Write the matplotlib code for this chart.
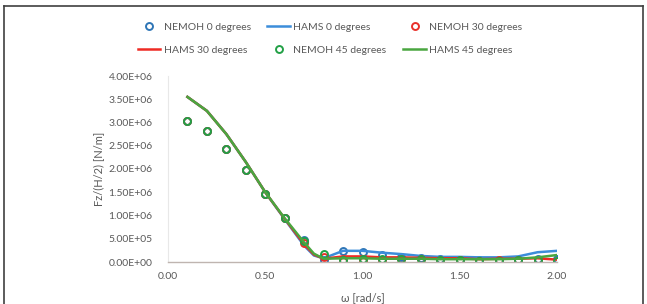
import matplotlib
matplotlib.use("Agg")
import matplotlib.pyplot as plt
from matplotlib.lines import Line2D
from matplotlib.ticker import FuncFormatter

# ---- data (values in N/m) ----
omega_nemoh = [0.1, 0.2, 0.3, 0.4, 0.5, 0.6, 0.7, 0.8, 0.9, 1.0,
               1.1, 1.2, 1.3, 1.4, 1.5, 1.6, 1.7, 1.8, 1.9, 2.0]
nemoh_0 = [3.04, 2.82, 2.44, 1.98, 1.46, 0.94, 0.47, 0.04, 0.24, 0.22,
           0.15, 0.10, 0.08, 0.06, 0.05, 0.04, 0.04, 0.05, 0.06, 0.06]
nemoh_30 = [3.04, 2.82, 2.44, 1.98, 1.46, 0.94, 0.41, 0.10, 0.03, 0.03,
            0.05, 0.06, 0.06, 0.05, 0.04, 0.03, 0.04, 0.04, 0.05, 0.03]
nemoh_45 = [3.04, 2.82, 2.44, 1.98, 1.46, 0.94, 0.45, 0.17, 0.05, 0.06,
            0.07, 0.07, 0.07, 0.05, 0.04, 0.03, 0.03, 0.04, 0.04, 0.03]

omega_hams = [0.1, 0.2, 0.3, 0.4, 0.5, 0.6, 0.7, 0.75, 0.8, 0.9, 1.0,
              1.1, 1.2, 1.3, 1.4, 1.5, 1.6, 1.7, 1.8, 1.9, 2.0]
hams_0 = [3.55, 3.25, 2.75, 2.15, 1.50, 0.92, 0.35, 0.14, 0.08, 0.24, 0.24,
          0.20, 0.17, 0.13, 0.11, 0.11, 0.10, 0.10, 0.12, 0.21, 0.24]
hams_30 = [3.55, 3.25, 2.75, 2.15, 1.50, 0.93, 0.38, 0.16, 0.07, 0.12, 0.12,
           0.10, 0.10, 0.09, 0.08, 0.08, 0.06, 0.07, 0.07, 0.08, 0.05]
hams_45 = [3.55, 3.25, 2.75, 2.15, 1.50, 0.94, 0.42, 0.18, 0.07, 0.08, 0.08,
           0.07, 0.07, 0.07, 0.06, 0.06, 0.06, 0.06, 0.07, 0.10, 0.15]

x_ticks = [0.0, 0.5, 1.0, 1.5, 2.0]
y_ticks = [0, 0.5e6, 1.0e6, 1.5e6, 2.0e6, 2.5e6, 3.0e6, 3.5e6, 4.0e6]

scale = 1e6
text_color = "#595959"
c_blue_m, c_blue_l = "#2E75B6", "#3C8DDA"
c_red_m, c_red_l = "#E8302A", "#EE2B24"
c_green_m, c_green_l = "#22A046", "#4AA640"

plt.rcParams['font.family'] = ['Lato', 'DejaVu Sans']

fig = plt.figure(figsize=(6.47, 3.04), dpi=100)
ax = fig.add_axes([168/647, 1 - 262/304, (557-168)/647, (262-76)/304])

mk = dict(marker='o', linestyle='none', markersize=5.0, markerfacecolor='none',
          markeredgewidth=1.4)
ax.plot(omega_nemoh, [v*scale for v in nemoh_0], markeredgecolor=c_blue_m, **mk)
ax.plot(omega_hams, [v*scale for v in hams_0], color=c_blue_l, lw=1.8)
ax.plot(omega_nemoh, [v*scale for v in nemoh_30], markeredgecolor=c_red_m, **mk)
ax.plot(omega_hams, [v*scale for v in hams_30], color=c_red_l, lw=1.8)
ax.plot(omega_nemoh, [v*scale for v in nemoh_45], markeredgecolor=c_green_m, **mk)
ax.plot(omega_hams, [v*scale for v in hams_45], color=c_green_l, lw=1.8)

ax.set_xlim(0, 2.0)
ax.set_ylim(0, 4.0e6)
ax.set_xticks(x_ticks)
ax.set_yticks(y_ticks)
ax.xaxis.set_major_formatter(FuncFormatter(lambda v, p: f"{v:.2f}"))
ax.yaxis.set_major_formatter(FuncFormatter(lambda v, p: "%.2E" % v))
ax.tick_params(length=0, labelsize=7.5, colors=text_color)
ax.tick_params(axis='y', pad=11)
ax.tick_params(axis='x', pad=7)
for s in ['top', 'right']:
    ax.spines[s].set_visible(False)
ax.spines['bottom'].set_color('#BFB5B0')
ax.spines['left'].set_color('#E8E8E8')
ax.spines['bottom'].set_linewidth(1.0)

ax.set_xlabel("ω [rad/s]", fontsize=8, color=text_color, labelpad=8)
ax.set_ylabel("Fz/(H/2) [N/m]", fontsize=8, color=text_color, labelpad=3)

handles = [
    Line2D([], [], markeredgecolor=c_blue_m, **mk),
    Line2D([], [], color=c_red_l, lw=1.8),
    Line2D([], [], color=c_blue_l, lw=1.8),
    Line2D([], [], markeredgecolor=c_green_m, **mk),
    Line2D([], [], markeredgecolor=c_red_m, **mk),
    Line2D([], [], color=c_green_l, lw=1.8),
]
labels = ["NEMOH 0 degrees", "HAMS 30 degrees", "HAMS 0 degrees",
          "NEMOH 45 degrees", "NEMOH 30 degrees", "HAMS 45 degrees"]
leg = fig.legend(handles, labels, ncol=3, loc='center', bbox_to_anchor=(330/647, 1 - 38.5/304),
                 frameon=False, fontsize=7.5, handlelength=2.2, handletextpad=0.3,
                 columnspacing=1.6, labelspacing=1.3, borderaxespad=0)
for t in leg.get_texts():
    t.set_color(text_color)

# outer chart frame
fig.add_artist(Line2D([4/647, 4/647], [0, 1 - 6/304], color='#404040', lw=1.2,
                      transform=fig.transFigure))
fig.add_artist(Line2D([4/647, 643/647], [1 - 6/304, 1 - 6/304], color='#404040', lw=1.2,
                      transform=fig.transFigure))
fig.add_artist(Line2D([643/647, 643/647], [0, 1 - 6/304], color='#404040', lw=1.2,
                      transform=fig.transFigure))

fig.savefig("out.png", dpi=100)
